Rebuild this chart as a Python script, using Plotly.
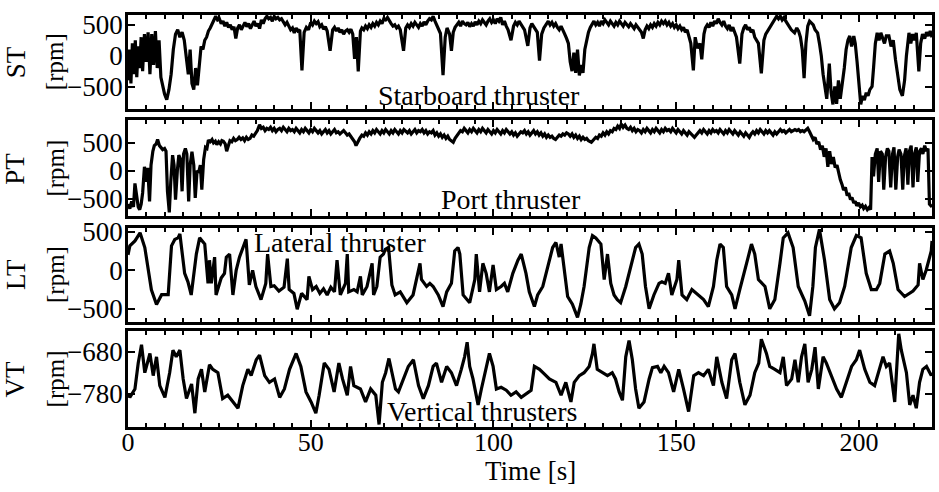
import plotly.graph_objects as go

# ---------------- data ----------------
st_t = [0,0.4,0.8,1.2,1.6,2.0,2.4,2.8,3.2,3.6,4.0,4.5,5.0,5.5,6.0,6.5,7.0,7.5,8.0,8.5,9.0,9.5,10.0,10.6,11.2,11.8,12.4,13.0,13.6,14.2,14.8,15.4,16.0,16.5,17.0,17.5,18.0,18.5,19.0,19.5,20.0,20.5,21.0,21.5,22.0,22.5,23.0,23.5,24.0,24.5,25,25.5,26,26.5,27,27.5,28,28.5,29,29.5,30,30.5,31,31.5,32,32.5,33,33.5,34,34.5,35,35.5,36,36.5,37,37.5,38,38.5,39,39.5,40,40.5,41,41.5,42,42.5,43,43.5,44,44.5,45,45.5,46,46.5,47,47.6,48.2,48.8,49.4,50,50.5,51,51.5,52,52.5,53,53.5,54,54.5,55.3,56,56.5,57,57.5,58,58.5,59,59.5,60,60.5,61,61.5,62,62.5,63,63.6,64,64.5,65,65.5,66,66.5,67,67.5,68,68.5,69,69.5,70,70.5,71,71.5,72,72.5,73,73.5,74,74.5,75.4,76,76.5,77,77.5,78,78.5,79,79.5,80,80.5,81,81.5,82,82.5,83,83.5,84,84.5,85,85.5,86.2,86.8,87.3,88,88.5,89,89.5,90,90.5,91,91.5,92,92.5,93,93.5,94,94.5,95,95.5,96,96.5,97,97.5,98,98.5,99,99.5,100,100.5,101,101.5,102,102.5,103,103.5,104,104.8,105.5,106,106.5,107,107.5,108,108.5,109.4,110,110.5,111,111.5,112,112.6,113.2,113.8,114.5,115,115.5,116,116.5,117,117.5,118,118.5,119,119.5,120,120.5,121,121.5,122,122.5,123,123.5,124,124.5,125,125.5,126,126.5,127,127.5,128,128.5,129,129.5,130,130.5,131,131.5,132,132.5,133,133.5,134,134.5,135,135.5,136,136.5,137,137.5,138,138.5,139,139.5,140,140.5,141,141.5,142,142.5,143,143.5,144,144.5,145,145.5,146,146.5,147,147.5,148,148.5,149,149.5,150,150.5,151,151.5,152,152.5,153,153.5,154,154.7,155.2,155.8,156.5,157,157.6,158,158.5,159,159.5,160,160.5,161,161.5,162,162.5,163,163.5,164,164.5,165,165.5,166,166.5,167.4,168,168.5,169,169.5,170,170.5,171,171.5,172,172.5,173.3,174,174.5,175,175.5,176,176.5,177,177.5,178,178.5,179,179.5,180,180.5,181,181.5,182.4,183,183.5,184,184.5,185,185.5,186,186.5,187,187.5,188,188.7,189.2,189.7,190.2,190.7,191.2,191.9,192.4,192.9,193.4,193.9,194.4,194.9,195.4,196,196.5,197,197.5,198,198.6,199,199.5,200,200.5,201,201.5,202,202.5,203,203.6,204,204.5,205,205.5,206,206.5,207,207.5,208.2,208.8,209.4,210,210.6,211.2,211.9,212.5,213,213.7,214.2,214.7,215.2,215.7,216.4,216.9,217.4,218,218.5,219,219.5,220]
st_v = [-400,100,-450,200,-300,250,-350,150,-200,300,-250,350,-100,380,-300,350,-150,400,-200,250,-350,-500,-620,-714,-550,-300,100,350,420,300,380,250,-100,-300,100,-450,-550,-200,-480,-100,150,100,250,300,400,450,520,580,640,580,600,520,560,480,540,460,500,420,470,280,450,500,420,480,540,470,520,440,500,560,480,520,440,580,520,600,640,600,620,560,640,600,620,580,600,540,500,540,470,420,450,370,450,400,420,-238,380,460,420,540,500,560,520,550,470,500,430,470,400,80,420,460,400,450,380,420,350,400,420,380,430,350,-50,300,-254,400,450,420,480,440,500,460,520,480,540,500,560,520,600,580,620,560,520,480,500,450,480,420,80,450,500,460,520,480,540,500,460,520,480,550,500,560,600,580,640,560,500,420,360,-317,300,450,350,80,380,460,500,540,480,560,520,500,540,470,520,480,550,500,560,520,580,540,500,560,600,540,580,520,600,560,620,500,560,480,420,250,480,540,500,560,520,480,420,160,450,520,480,420,380,-80,350,450,520,560,500,540,480,520,460,420,480,400,350,280,200,-100,-250,50,-280,100,-320,-150,-280,100,250,380,460,520,560,500,540,480,560,520,580,540,500,560,520,480,540,500,560,520,480,540,500,470,520,480,440,500,460,420,380,280,420,480,440,500,460,520,480,540,500,560,520,560,500,540,480,520,460,500,440,480,420,460,380,420,300,200,-238,300,120,200,-60,350,450,500,460,540,480,560,520,600,540,500,560,480,440,500,400,460,380,300,-127,350,450,500,420,460,380,420,300,250,200,-286,250,350,400,460,500,560,600,640,600,640,580,620,560,520,480,420,370,450,400,300,100,-365,200,480,560,520,500,420,370,200,0,-300,-550,-700,-127,-600,-790,-500,-780,-400,-700,-480,-200,100,250,320,150,320,200,-100,-500,-790,-650,-720,-600,-650,-550,-500,-200,200,370,250,370,300,200,320,320,150,250,-60,-300,-550,-650,-400,0,370,200,350,250,370,-254,200,350,280,380,320,400,300]

pt_t = [0,0.5,1.0,1.5,1.9,2.4,2.8,3.2,3.6,4.0,4.5,5.0,5.4,5.9,6.3,6.8,7.2,7.7,8.1,8.6,9.0,9.5,10.0,10.4,10.8,11.3,11.7,12.2,12.6,13.0,13.5,13.9,14.4,14.8,15.2,15.7,16.1,16.6,17.0,17.5,18.0,18.4,18.9,19.3,19.8,20.2,20.7,21.2,21.6,22.0,22.5,23.0,23.4,23.9,24.3,24.8,25.3,25.7,26.1,26.6,27.0,27.5,27.9,28.4,28.9,29.4,29.9,30.4,30.9,31.4,31.9,32.4,32.9,33.4,33.9,34.4,34.9,35.4,36.0,36.5,37,37.5,38,38.5,39,39.5,40,40.5,41,41.5,42,42.5,43,43.5,44,44.5,45,45.5,46,46.5,47,47.5,48,48.5,49,49.5,50,50.5,51,51.5,52,52.5,53,53.5,54,54.5,55,55.5,56,56.5,57,57.5,58,58.5,59,59.5,60,60.5,61,61.5,62,62.4,62.9,63.4,64,64.5,65,65.5,66,66.5,67,67.5,68,68.5,69,69.5,70,70.5,71,71.5,72,72.5,73,73.5,74,74.5,75,75.5,76,76.5,77,77.5,78,78.5,79,79.5,80,80.5,81,81.5,82,82.5,83,83.5,84,84.5,85,85.5,86,86.5,87,87.5,88,88.5,89,89.5,90,90.5,91,91.5,92,92.5,93,93.5,94,94.5,95,95.5,96,96.5,97,97.5,98,98.5,99,99.5,100,100.5,101,101.5,102,102.5,103,103.5,104,104.5,105,105.5,106,106.5,107,107.5,108,108.5,109,109.5,110,110.5,111,111.5,112,112.5,113,113.5,114,114.5,115,115.5,116,116.5,117,117.5,118,118.5,119,119.5,120,120.5,121,121.5,122,122.5,123,123.5,124,124.5,125,125.5,126,126.8,127.5,128,128.5,129,129.5,130,130.5,131,131.5,132,132.5,133,133.5,134,134.5,135,135.5,136,136.5,137,137.5,138,138.5,139,139.5,140,140.5,141,141.5,142,142.5,143,143.5,144,144.5,145,145.5,146,146.5,147,147.5,148,148.5,149,149.5,150,150.5,151,151.5,152,152.5,153,153.5,154,154.5,155,155.5,156,156.5,157,157.5,158,158.5,159,159.5,160,160.5,161,161.5,162,162.5,163,163.5,164,164.5,165,165.5,166,166.5,167,167.5,168,168.5,169,169.5,170,170.5,171,171.5,172,172.5,173,173.5,174,174.5,175,175.5,176,176.5,177,177.5,178,178.5,179,179.5,180,180.5,181,181.5,182,182.5,183,183.5,184,184.5,185,185.5,186,186.5,187,187.5,188,188.5,189,189.5,190,190.5,191,191.5,192,192.5,193,193.5,194,194.4,194.9,195.4,195.8,196.3,196.8,197.2,197.7,198.1,198.6,199,199.4,199.9,200.4,200.9,201.3,201.8,202.3,202.8,203.2,203.6,204,204.5,205,205.4,205.9,206.4,206.8,207.3,207.8,208.2,208.7,209.2,209.6,210.1,210.6,211,211.5,212,212.4,212.9,213.4,213.8,214.3,214.8,215.2,215.7,216.1,216.6,217.1,217.5,218,218.5,218.9,219.3,220]
pt_v = [-600,-680,-550,-650,-228,-500,-650,-700,-600,-400,70,-200,50,-550,100,350,450,480,560,450,420,380,400,350,-370,-750,-200,280,100,-520,0,280,200,-370,300,400,300,-550,100,340,100,-490,0,-40,100,-340,200,420,400,550,520,560,500,530,470,520,480,540,530,480,350,480,540,520,580,540,560,600,560,590,540,600,560,580,640,620,680,720,825,760,780,720,760,740,780,720,760,700,740,760,720,780,740,700,760,720,740,700,760,720,680,740,700,760,720,680,740,700,760,720,680,720,660,700,740,680,720,660,700,740,680,700,660,700,720,680,640,660,620,580,520,450,520,580,640,620,680,640,700,660,720,680,740,700,660,720,680,740,700,660,720,680,740,700,660,720,680,740,700,680,720,660,700,740,680,720,700,740,680,720,660,700,680,720,640,680,620,660,600,640,580,620,560,540,510,580,620,680,720,700,760,720,680,740,700,760,720,680,740,700,760,720,680,740,700,660,720,680,740,700,660,720,680,740,700,660,700,640,680,620,660,700,680,720,660,700,640,680,720,660,700,640,680,620,660,600,640,600,620,580,560,600,640,620,660,640,680,660,620,660,600,640,580,620,560,600,560,580,540,510,560,600,580,640,620,680,640,700,660,720,700,760,740,800,760,840,780,820,760,740,780,720,760,700,740,720,680,740,700,760,720,680,740,700,760,720,680,740,700,760,720,740,700,760,720,680,740,700,660,720,680,640,700,660,620,600,640,680,720,680,740,700,660,720,680,740,700,720,680,740,700,660,720,680,740,700,660,720,680,640,700,660,620,680,640,600,660,700,660,720,680,740,700,660,720,680,720,680,640,700,660,700,740,700,720,680,720,740,700,720,740,720,740,700,720,700,740,760,700,640,560,600,480,520,380,450,250,400,70,350,120,245,60,100,-50,-160,-250,-350,-300,-450,-400,-520,-480,-580,-550,-630,-580,-650,-620,-680,-640,-700,-660,-700,245,-100,300,400,-200,350,300,-340,250,400,350,-300,300,420,-340,250,380,300,-340,250,400,-250,350,450,-300,300,420,-200,350,400,300,450,350,400,-600,-650]

lt_t = [0,0.5,1.9,3.3,4.6,6.4,7.8,9.2,11.0,11.9,12.8,13.7,14.2,15.5,16.4,17.3,18.7,19.6,21.0,21.9,22.3,22.8,23.7,24.1,25.5,26.4,26.9,27.8,28.7,29.6,30.5,31.4,32.3,33.2,34.1,35.0,36.4,37.7,38.2,39.1,40.0,41.3,42.7,43.6,44.1,45.4,46.3,47.5,49.0,49.5,50.5,51.5,52.5,53.5,54.5,55.5,56.5,57.2,58.1,59.5,60.0,60.4,61.8,62.7,63.6,64.1,65.4,66.8,67.2,68.1,69.0,69.9,70.4,71.3,72.2,73.1,74.5,76.3,78.0,79.9,80.3,81.7,82.6,83.5,84.9,86.2,87.2,88.5,89.4,90.3,90.8,91.7,93.5,94.9,95.3,96.2,97.1,98.0,98.9,99.9,100.8,102.1,103.0,103.9,105.3,106.7,107.6,108.9,109.8,111.2,112.1,113.5,115.3,116.2,117.1,118.0,118.5,119.4,120.3,121.6,123.0,123.9,124.8,126.2,127.1,128.0,129.4,130.3,131.2,132.1,133.0,133.9,134.8,136.2,137.6,138.9,139.8,140.7,141.6,142.6,143.9,145.3,146.1,147.0,147.9,148.8,150.2,150.7,151.6,152.9,154.3,156.1,157.5,158.8,160.2,161.1,162.0,162.9,163.8,165.2,166.1,167.4,168.4,169.7,170.6,171.5,172.5,174.3,175.6,177.0,178.4,179.3,180.6,182.0,183.4,185.2,186.5,187.4,188.1,189.2,190.6,192.0,193.3,194.7,196.1,197.9,199.3,200.6,202.0,203.4,204.8,205.7,207.1,208.4,209.4,210.7,212.5,214.8,216.2,216.6,217.5,218.4,219.8,220]
lt_v = [200,316,380,485,295,-253,-443,-316,-316,316,400,420,470,-40,-150,-320,210,420,340,-170,130,-170,170,-320,-100,-40,170,210,-320,0,170,295,400,-190,0,-210,-380,-170,210,-210,-200,-270,-220,150,-250,-300,-506,-300,-380,-80,-250,-210,-300,-240,-320,-220,-280,130,-320,-170,210,-280,-250,-280,-80,-320,-210,90,-320,-210,170,210,270,295,-190,-320,-280,-420,-320,90,-120,-210,-170,-210,-320,-470,-280,-170,250,295,210,-320,-420,-120,210,-280,90,-40,-280,70,-250,-210,-170,-280,-40,130,210,-40,-280,-470,-320,-210,130,295,360,170,340,0,-340,-440,-610,-440,-210,295,450,420,340,-120,210,-170,-320,-380,-420,-210,50,295,340,210,-210,-500,-320,-170,-150,-170,-40,-320,-120,130,-320,-380,-250,-320,-380,-470,-210,130,340,295,-210,-320,-500,-250,-80,170,340,210,-120,-210,-500,-380,90,420,485,295,-210,-400,-590,-210,295,530,130,-380,-500,-420,-210,295,450,420,-40,-250,-250,-170,210,250,90,-250,-340,-270,-190,90,-120,0,250,380,420]

vt_t = [0,0.5,1.9,2.8,3.7,4.6,6.0,6.9,7.8,8.7,10.1,11.4,12.3,13.2,14.2,15.1,16.0,17.4,18.3,19.2,20.1,21.0,22.3,23.2,24.6,25.9,27.3,28.7,30.1,31.4,32.8,33.7,35.1,36.0,37.4,38.7,40.1,41.5,42.8,44.2,46.0,47.3,48.7,50.1,51.4,52.3,53.7,55.0,56.4,57.7,58.7,60.0,60.9,61.8,63.6,65.0,66.4,67.8,68.7,69.6,70.5,71.4,72.3,73.2,74.0,75.4,76.7,78.1,79.5,80.8,82.2,83.5,84.4,85.8,87.2,88.5,89.9,91.2,92.1,92.8,93.5,94.4,95.8,96.7,98.0,98.9,99.9,100.8,102.1,103.5,104.8,106.2,107.6,108.9,110.3,111.2,112.6,113.9,115.3,117.1,118.5,119.8,121.2,122.1,123.5,124.8,126.2,127.1,127.5,128.4,129.8,131.2,132.5,133.4,134.4,135.3,136.2,137.1,138.0,138.9,139.8,141.2,142.6,143.5,144.9,145.8,146.7,147.9,149.3,150.7,152.0,153.4,154.8,156.1,157.5,158.8,160.2,161.1,162.5,163.8,165.2,166.1,167.4,168.8,170.2,171.5,172.6,173.3,174.7,175.6,177.0,178.4,179.3,180.2,181.6,182.5,183.4,184.3,185.2,186.1,187.1,188.0,188.9,190.2,191.1,192.5,193.9,195.2,196.6,198.0,199.3,200.2,201.6,203.0,204.3,205.7,206.6,207.5,208.4,209.8,210.4,210.9,211.6,213.0,213.9,214.8,215.7,216.6,217.5,218.5,219.8,220]
vt_v = [-780,-789,-769,-707,-663,-730,-684,-737,-692,-761,-789,-730,-676,-692,-676,-745,-792,-757,-827,-745,-722,-776,-711,-722,-730,-792,-784,-800,-815,-761,-722,-737,-699,-688,-737,-753,-745,-789,-769,-722,-684,-715,-776,-800,-827,-784,-707,-722,-776,-707,-745,-784,-715,-761,-769,-800,-769,-784,-854,-753,-730,-696,-730,-769,-776,-745,-715,-699,-761,-792,-761,-715,-707,-753,-715,-730,-761,-722,-692,-657,-715,-745,-807,-769,-722,-684,-715,-769,-765,-772,-784,-776,-789,-780,-772,-715,-722,-733,-745,-753,-784,-753,-800,-753,-737,-730,-715,-684,-661,-722,-730,-737,-730,-745,-776,-796,-692,-653,-699,-769,-815,-800,-745,-718,-715,-730,-715,-730,-776,-722,-769,-823,-737,-730,-737,-722,-761,-692,-753,-792,-699,-684,-753,-807,-784,-730,-707,-650,-684,-715,-722,-730,-692,-761,-745,-699,-753,-692,-661,-753,-722,-669,-769,-692,-707,-737,-769,-789,-753,-715,-699,-676,-722,-753,-761,-722,-692,-715,-707,-800,-692,-637,-676,-730,-807,-784,-815,-753,-722,-715,-737,-730]

panel_labels = ["ST", "PT", "LT", "VT"]
unit_label = "[rpm]"
panel_titles = ["Starboard thruster", "Port thruster", "Lateral thruster", "Vertical thrusters"]
x_title = "Time [s]"

# ---------------- figure ----------------
FONT = "Liberation Serif, Times New Roman, serif"
series = [(st_t, st_v), (pt_t, pt_v), (lt_t, lt_v), (vt_t, vt_v)]
domains = [[0.7725, 1.0], [0.5118, 0.7441], [0.2559, 0.4834], [0.0, 0.2322]]
yranges = [[-860, 660], [-816, 903], [-665, 550], [-860, -631]]
ytickvals = [[-500, 0, 500], [-500, 0, 500], [-500, 0, 500], [-780, -680]]
title_pos = [(96.1, -651), (104.8, -509), (58.1, 354), (97.1, -822)]

fig = go.Figure()
layout = dict(
    width=939, height=492,
    margin=dict(l=128, r=4, t=5, b=65),
    paper_bgcolor="white", plot_bgcolor="white",
    showlegend=False,
    font=dict(family=FONT, size=26, color="black"),
)
annotations = []
for i, (t, v) in enumerate(series):
    n = "" if i == 0 else str(i + 1)
    fig.add_trace(go.Scatter(x=t, y=v, mode="lines",
                             line=dict(color="black", width=3.2),
                             xaxis="x" + n, yaxis="y" + n, hoverinfo="skip"))
    layout["xaxis" + n] = dict(
        domain=[0, 1], anchor="y" + n, range=[0, 220],
        showline=True, linecolor="black", linewidth=2.5, mirror="ticks",
        ticks="inside", ticklen=7, tickwidth=2, tickcolor="black",
        tick0=0, dtick=50, showgrid=False, zeroline=False,
        showticklabels=(i == 3), ticklabelstandoff=-10,
        tickfont=dict(family=FONT, size=26),
        minor=dict(dtick=5, tick0=0, ticks="inside", ticklen=4, tickwidth=2, tickcolor="black", showgrid=False),
    )
    if i != 0:
        layout["xaxis" + n]["matches"] = "x"
    layout["yaxis" + n] = dict(
        domain=domains[i], anchor="x" + n, range=yranges[i],
        showline=True, linecolor="black", linewidth=2.5, mirror="ticks",
        ticks="inside", ticklen=7, tickwidth=2, tickcolor="black",
        tickmode="array", tickvals=ytickvals[i],
        showgrid=False, zeroline=False, ticklabelstandoff=-3,
        tickfont=dict(family=FONT, size=27),
    )
    ymid = (domains[i][0] + domains[i][1]) / 2
    annotations.append(dict(text=panel_labels[i], xref="paper", yref="paper",
                            x=(15 - 128) / 807, y=ymid, textangle=-90,
                            showarrow=False, xanchor="center", yanchor="middle",
                            font=dict(family=FONT, size=27)))
    annotations.append(dict(text=unit_label, xref="paper", yref="paper",
                            x=(55 - 128) / 807, y=ymid, textangle=-90,
                            showarrow=False, xanchor="center", yanchor="middle",
                            font=dict(family=FONT, size=25)))
    annotations.append(dict(text=panel_titles[i], xref="x" + n, yref="y" + n,
                            x=title_pos[i][0], y=title_pos[i][1],
                            showarrow=False, xanchor="center", yanchor="middle",
                            font=dict(family=FONT, size=28)))
# x-axis title
annotations.append(dict(text=x_title, xref="paper", yref="paper",
                        x=0.5, y=(427 - 472) / 422, showarrow=False,
                        xanchor="center", yanchor="middle",
                        font=dict(family=FONT, size=27)))
layout["annotations"] = annotations
fig.update_layout(**layout)
fig.write_html("out.html")
